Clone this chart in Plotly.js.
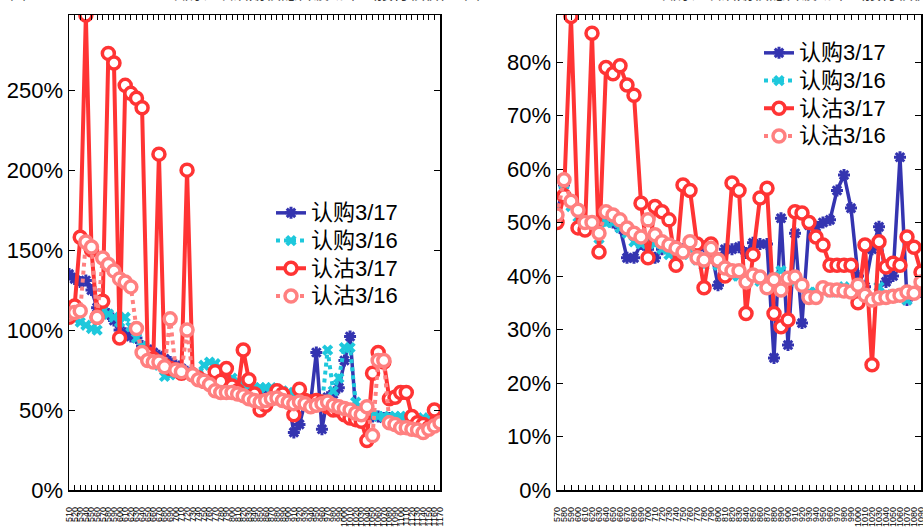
<!DOCTYPE html>
<html>
<head>
<meta charset="utf-8">
<script src="https://cdn.plot.ly/plotly-3.0.1.min.js"></script>
<style>html,body{margin:0;padding:0;background:#fff;}#chart{width:923px;height:527px;}</style>
</head>
<body>
<div id="chart"></div>
<script>
// ---- Left panel: strikes ----
const leftStrikes = ["510","520","530","540","550","560","570","580","590","600","610","620","630","640","650","660","670","680","690","700","710","720","730","740","750","760","770","780","790","800","810","820","830","840","850","860","870","880","890","900","910","920","930","940","950","960","970","980","990","1000","1010","1020","1030","1040","1050","1060","1070","1080","1090","1100","1110","1120","1130","1140","1150","1160","1170"];
const leftCall317 = [1.35,1.32,1.30,1.31,1.25,1.14,1.12,1.10,1.06,1.00,0.98,0.96,0.95,0.90,0.88,0.86,0.84,0.82,0.80,0.78,0.76,0.74,0.72,0.70,0.69,0.68,0.67,0.66,0.65,0.64,0.63,0.62,0.62,0.61,0.61,0.60,0.60,0.59,0.58,0.57,0.36,0.41,0.55,0.55,0.86,0.38,0.58,0.60,0.64,0.81,0.96,0.50,0.48,0.47,0.46,0.46,0.45,0.45,0.44,0.44,0.44,0.43,0.43,0.43,0.43,0.43,0.43];
const leftCall316 = [1.10,1.07,1.05,1.03,1.01,1.00,1.12,1.10,1.08,1.05,1.08,1.02,0.95,0.90,0.85,0.80,0.78,0.71,0.72,0.74,0.73,0.72,0.71,0.72,0.78,0.80,0.79,0.76,0.72,0.70,0.68,0.66,0.65,0.64,0.64,0.64,0.64,0.63,0.62,0.61,0.60,0.58,0.57,0.55,0.54,0.53,0.875,0.62,0.70,0.89,0.89,0.55,0.50,0.48,0.47,0.46,0.46,0.46,0.46,0.46,0.46,0.45,0.45,0.45,0.45,0.44,0.44];
const leftPut317 = [1.08,1.15,1.58,2.97,1.50,1.08,1.18,2.73,2.67,0.95,2.53,2.48,2.45,2.39,0.85,0.82,2.10,0.78,0.76,0.75,0.73,2.00,0.72,0.70,0.68,0.67,0.74,0.68,0.76,0.65,0.62,0.875,0.69,0.60,0.50,0.53,0.57,0.62,0.60,0.55,0.47,0.63,0.56,0.55,0.56,0.55,0.52,0.50,0.50,0.47,0.45,0.44,0.43,0.31,0.73,0.86,0.80,0.57,0.58,0.61,0.61,0.46,0.42,0.41,0.39,0.50,null];
const leftPut316 = [1.10,1.11,1.12,1.55,1.52,1.08,1.45,1.41,1.37,1.32,1.30,1.27,1.01,0.86,0.81,0.80,0.80,0.77,1.07,0.75,0.74,1.00,0.72,0.69,0.68,0.66,0.62,0.61,0.61,0.61,0.60,0.59,0.57,0.56,0.55,0.56,0.57,0.575,0.56,0.55,0.54,0.55,0.54,0.52,0.53,0.54,0.55,0.53,0.52,0.51,0.50,0.48,0.47,0.52,0.34,0.81,0.81,0.42,0.41,0.39,0.39,0.38,0.375,0.36,0.38,0.40,0.42];

// ---- Right panel: strikes ----
const rightStrikes = ["570","580","590","600","610","620","630","640","650","660","670","680","690","700","710","720","730","740","750","760","770","780","790","800","810","820","830","840","850","860","870","880","890","900","910","920","930","940","950","960","970","980","990","1000","1010","1020","1030","1040","1050","1060","1070","1080","1090"];
const rightCall317 = [0.52,0.57,0.54,0.52,0.50,0.50,0.48,0.51,0.50,0.49,0.434,0.434,0.46,0.45,0.434,0.45,0.46,0.455,0.45,0.455,0.45,0.455,0.45,0.383,0.45,0.45,0.454,0.443,0.462,0.46,0.46,0.247,0.508,0.271,0.48,0.312,0.495,0.492,0.50,0.505,0.56,0.589,0.527,0.40,0.38,0.45,0.492,0.389,0.40,0.622,0.355,0.37,0.37];
const rightCall316 = [0.51,0.56,0.53,0.51,0.49,0.49,0.47,0.50,0.50,0.49,0.48,0.464,0.46,0.47,0.46,0.45,0.44,0.44,0.44,0.45,0.43,0.42,0.43,0.42,0.41,0.40,0.40,0.39,0.40,0.39,0.38,0.40,0.41,0.39,0.39,0.38,0.37,0.37,0.375,0.37,0.37,0.38,0.37,0.38,0.365,0.36,0.38,0.365,0.36,0.36,0.355,0.37,0.385];
const rightPut317 = [0.50,0.55,0.885,0.49,0.486,0.854,0.445,0.79,0.778,0.793,0.757,0.738,0.536,0.434,0.53,0.52,0.505,0.42,0.57,0.56,0.46,0.378,0.46,0.43,0.40,0.574,0.56,0.33,0.44,0.546,0.564,0.33,0.305,0.318,0.52,0.518,0.50,0.473,0.458,0.42,0.42,0.42,0.42,0.35,0.458,0.234,0.464,0.417,0.424,0.42,0.473,0.454,0.407];
const rightPut316 = [0.514,0.58,0.54,0.523,0.50,0.50,0.48,0.52,0.514,0.505,0.49,0.48,0.473,0.505,0.477,0.464,0.458,0.452,0.445,0.464,0.434,0.43,0.452,0.43,0.415,0.41,0.41,0.389,0.402,0.398,0.378,0.393,0.374,0.396,0.398,0.383,0.36,0.36,0.378,0.374,0.374,0.372,0.37,0.383,0.364,0.355,0.359,0.36,0.362,0.364,0.37,0.368,0.389];

const seriesNames = ["认购3/17","认购3/16","认沽3/17","认沽3/16"];
const colBlue = "#3434B0", colCyan = "#1EC8DC", colRed = "#FF3434", colPink = "#FF8080";

function mk(x, y, idx, xa, ya, lg, show) {
  const styles = [
    {line:{color:colBlue,width:3.5,dash:"solid"}, marker:{symbol:"asterisk-open",size:10,color:colBlue,line:{color:colBlue,width:3}}},
    {line:{color:colCyan,width:4,dash:"dot"}, marker:{symbol:"x",size:10,color:colCyan,line:{width:0}}},
    {line:{color:colRed,width:4,dash:"solid"}, marker:{symbol:"circle",size:12,color:"#ffffff",line:{color:colRed,width:3.5}}},
    {line:{color:colPink,width:4,dash:"dot"}, marker:{symbol:"circle",size:12,color:"#ffffff",line:{color:colPink,width:3.5}}}
  ];
  const s = styles[idx];
  return {type:"scatter", mode:"lines+markers", x:x, y:y,
    name:'<span style="font-size:22px">' + seriesNames[idx] + '</span>',
    xaxis:xa, yaxis:ya, legend:lg, showlegend:show, line:s.line, marker:s.marker,
    connectgaps:false, cliponaxis:true, hoverinfo:"skip"};
}

const data = [
  mk(leftStrikes,leftCall317,0,"x","y","legend",true),
  mk(leftStrikes,leftCall316,1,"x","y","legend",true),
  mk(leftStrikes,leftPut317,2,"x","y","legend",true),
  mk(leftStrikes,leftPut316,3,"x","y","legend",true),
  mk(rightStrikes,rightCall317,0,"x2","y2","legend2",true),
  mk(rightStrikes,rightCall316,1,"x2","y2","legend2",true),
  mk(rightStrikes,rightPut317,2,"x2","y2","legend2",true),
  mk(rightStrikes,rightPut316,3,"x2","y2","legend2",true)
];

const W = 923, H = 527;
const fontFam = "Liberation Sans, Arial, Noto Sans CJK SC, sans-serif";
const xCommon = {type:"category", tickmode:"linear", tick0:0, dtick:1, ticks:"inside", ticklen:5, tickwidth:1,
  tickcolor:"#000", showline:true, linecolor:"#000", linewidth:1.5, mirror:"ticks", showgrid:false, zeroline:false,
  tickangle:-90, ticklabelstandoff:12, tickfont:{size:9, color:"#000", family:fontFam}, fixedrange:true};
const yCommon = {ticks:"inside", ticklen:6, tickwidth:1, tickcolor:"#000", showline:true, linecolor:"#000", linewidth:1.5,
  mirror:"ticks", showgrid:false, zeroline:false, tickformat:".0%", tickfont:{size:22, color:"#000", family:fontFam}, fixedrange:true};

const yDom = [(H-490)/H, (H-15)/H];
const layout = {
  width:W, height:H, margin:{l:0,r:0,t:0,b:0}, paper_bgcolor:"#fff", plot_bgcolor:"#fff",
  font:{family:fontFam, color:"#000"},
  xaxis:Object.assign({}, xCommon, {domain:[69/W, 440/W], range:[0, leftStrikes.length-1], anchor:"y"}),
  yaxis:Object.assign({}, yCommon, {domain:yDom, range:[0, 2.97], dtick:0.5, anchor:"x"}),
  xaxis2:Object.assign({}, xCommon, {domain:[557/W, 921/W], range:[0, rightStrikes.length-1], anchor:"y2"}),
  yaxis2:Object.assign({}, yCommon, {domain:yDom, range:[0, 0.888], dtick:0.1, anchor:"x2"}),
  legend:{x:271/W, y:1-194/H, xanchor:"left", yanchor:"top", bgcolor:"rgba(0,0,0,0)", borderwidth:0,
    font:{size:19, family:fontFam, color:"#000"}, tracegroupgap:0, itemwidth:30},
  legend2:{x:759/W, y:1-34/H, xanchor:"left", yanchor:"top", bgcolor:"rgba(0,0,0,0)", borderwidth:0,
    font:{size:19, family:fontFam, color:"#000"}, tracegroupgap:0, itemwidth:30},
  annotations:[
    {xref:"paper", yref:"paper", x:8/W, y:1, xanchor:"left", yanchor:"bottom", yshift:-4, showarrow:false, text:"图19：", font:{size:16,color:"#333"}},
    {xref:"paper", yref:"paper", x:167/W, y:1, xanchor:"left", yanchor:"bottom", yshift:-4, showarrow:false, text:"认购、认沽期权隐含波动率（按行权价）", font:{size:16,color:"#333"}},
    {xref:"paper", yref:"paper", x:462/W, y:1, xanchor:"left", yanchor:"bottom", yshift:-4, showarrow:false, text:"图20：", font:{size:16,color:"#333"}},
    {xref:"paper", yref:"paper", x:655/W, y:1, xanchor:"left", yanchor:"bottom", yshift:-4, showarrow:false, text:"认购、认沽期权隐含波动率（按行权价）", font:{size:16,color:"#333"}}
  ],
  showlegend:true
};

Plotly.newPlot("chart", data, layout, {staticPlot:true, displayModeBar:false});
</script>
</body>
</html>
